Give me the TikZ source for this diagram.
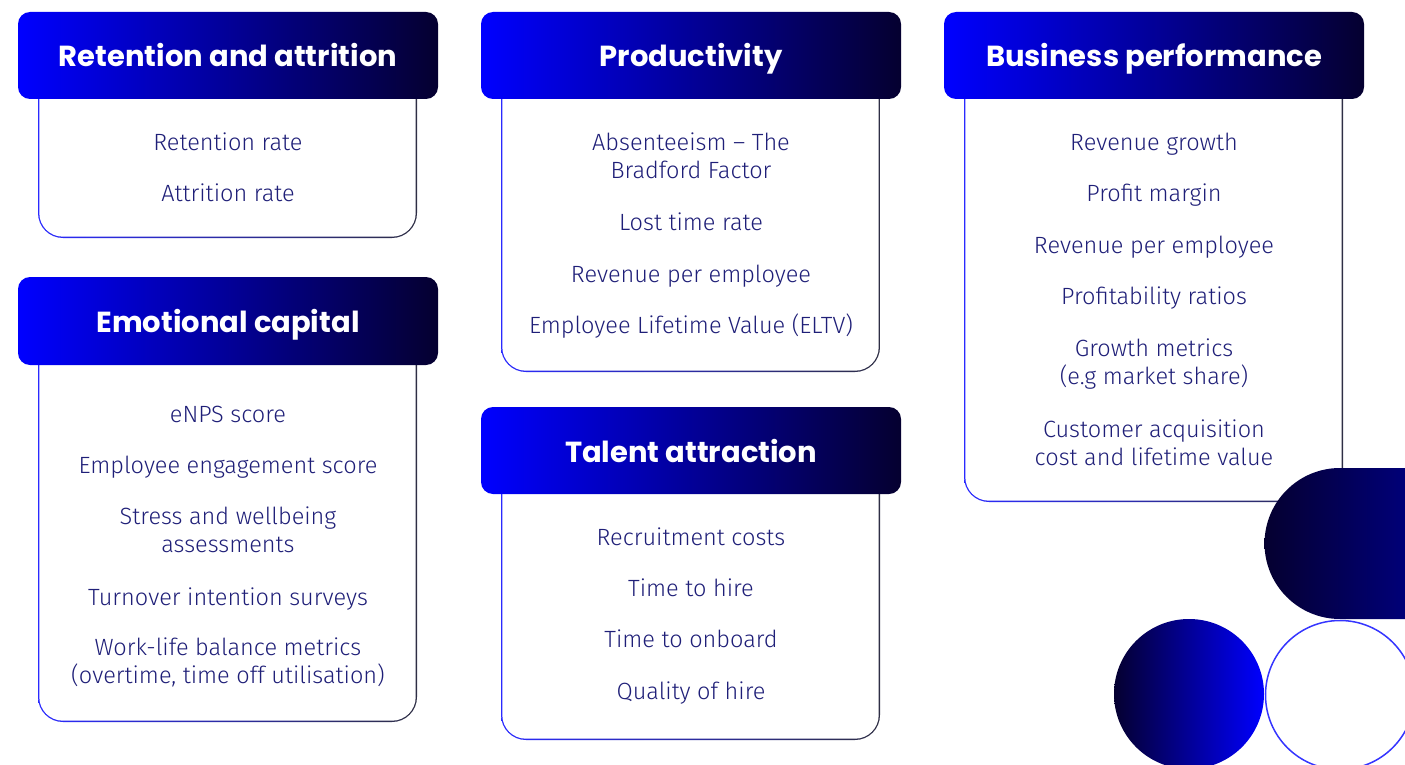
\documentclass[tikz,border=0pt]{standalone}
\usepackage{fontspec}
\newfontfamily\titlefont{Poppins}
\newfontfamily\bodyfont{Fira Sans Light}
\definecolor{hdL}{HTML}{0000FF}
\definecolor{hdR}{HTML}{050030}
\definecolor{bdL}{HTML}{2A2AFF}
\definecolor{bdR}{HTML}{2E2E44}
\definecolor{txt}{HTML}{1F1F78}
\definecolor{navyR}{HTML}{00007A}
\definecolor{ring}{HTML}{3535FF}
\newcommand\kpicard[4]{%
  \shade[left color=bdL,right color=bdR,rounded corners=25pt]
    (#1+20,#3-5) -- (#1+20,#4) -- (#1+399,#4) -- (#1+399,#3-5);
  \fill[white,rounded corners=23.7pt]
    (#1+21.3,#3-5) -- (#1+21.3,#4-1.3) -- (#1+397.7,#4-1.3) -- (#1+397.7,#3-5);
  \shade[left color=hdL,right color=hdR,rounded corners=12pt]
    (#1,#2) rectangle (#1+420,#3);
}
\tikzset{
  title/.style={font=\titlefont\bfseries\fontsize{29}{32}\selectfont,text=white,anchor=base,inner sep=0pt},
  item/.style={font=\bodyfont\fontsize{23.5}{28}\selectfont,text=txt,align=center,anchor=base,inner sep=0pt},
}
\begin{document}
\begin{tikzpicture}[x=1pt,y=-1pt]
\path[use as bounding box] (0,0) rectangle (1405,765);
\clip (0,0) rectangle (1405,765);

% cards
\kpicard{18}{12}{99}{238}
\kpicard{18}{277}{365}{722}
\kpicard{481}{12}{99}{372}
\kpicard{481}{407}{494}{740}
\kpicard{944}{12}{99}{502}

% titles (base anchor = baseline)
\node[title] (hRet) at (228,66.5) {Retention and attrition};
\node[title] (hEmo) at (228,332.5) {Emotional capital};
\node[title] (hPro) at (691,66.5) {Productivity};
\node[title] (hTal) at (691,462.5) {Talent attraction};
\node[title] (hBus) at (1154,66.5) {Business performance};

% retention
\node[item] (r1) at (228,150) {Retention rate};
\node[item] (r2) at (228,201) {Attrition rate};
% emotional
\node[item] (e1) at (228,422) {eNPS score};
\node[item] (e2) at (228,473) {Employee engagement score};
\node[item] (e3) at (228,552) {Stress and wellbeing\\assessments};
\node[item] (e4) at (228,605) {Turnover intention surveys};
\node[item] (e5) at (228,683) {Work-life balance metrics\\(overtime, time off utilisation)};
% productivity
\node[item] (p1) at (691,178) {Absenteeism – The\\Bradford Factor};
\node[item] (p2) at (691,230) {Lost time rate};
\node[item] (p3) at (691,282) {Revenue per employee};
\node[item] (p4) at (691,333) {Employee Lifetime Value (ELTV)};
% talent
\node[item] (t1) at (691,545) {Recruitment costs};
\node[item] (t2) at (691,596) {Time to hire};
\node[item] (t3) at (691,647) {Time to onboard};
\node[item] (t4) at (691,699) {Quality of hire};
% business
\node[item] (b1) at (1154,150) {Revenue growth};
\node[item] (b2) at (1154,201) {Profit margin};
\node[item] (b3) at (1154,253) {Revenue per employee};
\node[item] (b4) at (1154,304) {Profitability ratios};
\node[item] (b5) at (1154,384) {Growth metrics\\(e.g market share)};
\node[item] (b6) at (1154,465) {Customer acquisition\\cost and lifetime value};

% decorations
\shade[left color=hdR,right color=navyR]
  (1340,468) arc[start angle=270,end angle=90,radius=75.5] -- (1410,619) -- (1410,468) -- cycle;
\shade[left color=hdR,right color=hdL] (1189,694) circle[radius=75];
\draw[ring,line width=1.5pt] (1340,695) circle[radius=74.5];
\end{tikzpicture}
\end{document}
